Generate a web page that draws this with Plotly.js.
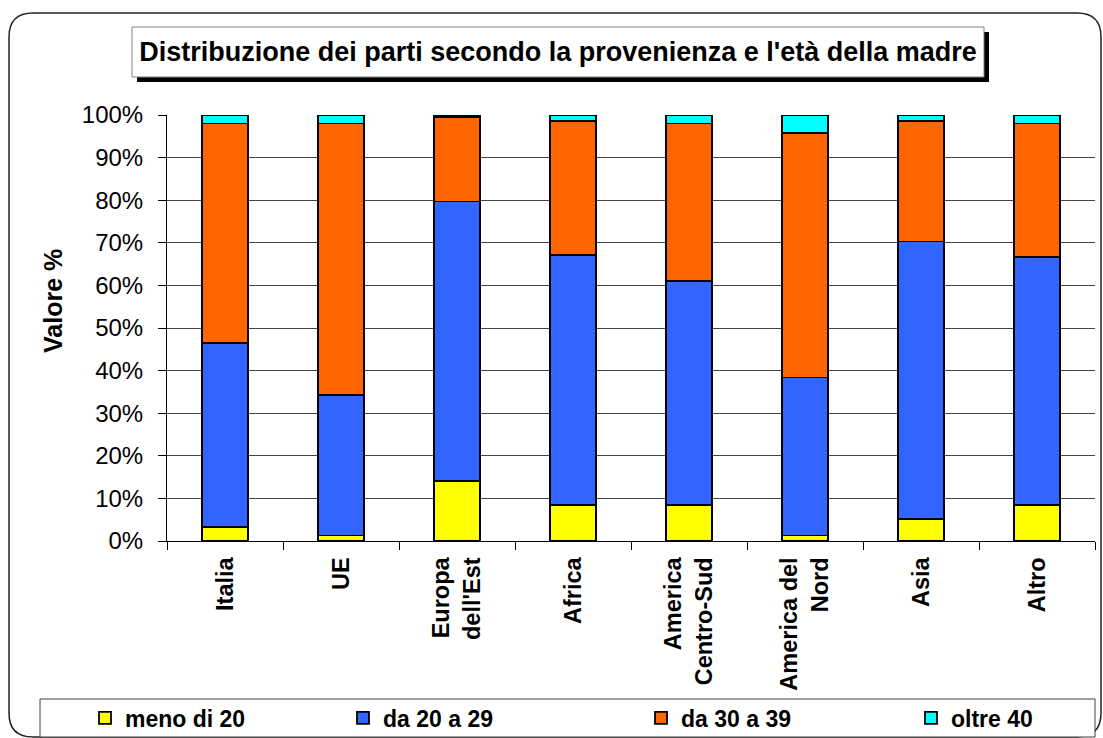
<!DOCTYPE html>
<html>
<head>
<meta charset="utf-8">
<script src="https://cdn.plot.ly/plotly-3.0.1.min.js"></script>
<style>html,body{margin:0;padding:0;background:#fff;}#chart{width:1103px;height:738px;}</style>
</head>
<body>
<div id="chart"></div>
<script>
// ---- data ----
const categories = ["Italia", "UE", "Europa<br>dell'Est", "Africa", "America<br>Centro-Sud", "America del<br>Nord", "Asia", "Altro"];
const seriesNames = ["meno di 20", "da 20 a 29", "da 30 a 39", "oltre 40"];
const meno20   = [3.3, 1.3, 14.1, 8.4, 8.4, 1.3, 5.1, 8.4];
const da20a29  = [43.1, 32.9, 65.6, 58.7, 52.6, 37.1, 65.2, 58.3];
const da30a39  = [51.6, 63.8, 19.8, 31.4, 37.0, 57.3, 28.2, 31.3];
const oltre40  = [2.0, 2.0, 0.5, 1.5, 2.0, 4.3, 1.5, 2.0];
const yTickVals = [0, 10, 20, 30, 40, 50, 60, 70, 80, 90, 100];
const yTickText = ["0%", "10%", "20%", "30%", "40%", "50%", "60%", "70%", "80%", "90%", "100%"];
const titleText = "Distribuzione dei parti secondo la provenienza e l'età della madre";
const yTitleText = "Valore %";

// ---- layout geometry (pixels) ----
const W = 1103, H = 738;
const M = {l: 167, r: 8, t: 115, b: 197};
const PW = W - M.l - M.r, PH = H - M.t - M.b;
const px = x => (x - M.l) / PW;
const py = y => (H - M.b - y) / PH;

const FONT = "Arial, 'Liberation Sans', Helvetica, sans-serif";
const colors = ["#FFFF00", "#3366FF", "#FF6600", "#00FFFF"];
const values = [meno20, da20a29, da30a39, oltre40];
const legendIds = ["legend", "legend2", "legend3", "legend4"];
const legendTextX = [126, 384, 682, 952];

const traces = values.map((v, i) => ({
  type: "bar",
  name: seriesNames[i],
  x: categories,
  y: v,
  legend: legendIds[i],
  showlegend: true,
  marker: {color: colors[i], line: {color: "#000", width: 1.8}},
  hoverinfo: "skip"
}));

function roundRectPath(x0, y0, x1, y1, r) {
  const P = (x, y) => px(x) + "," + py(y);
  return "M" + P(x0 + r, y0) + " L" + P(x1 - r, y0) + " Q" + P(x1, y0) + " " + P(x1, y0 + r) +
    " L" + P(x1, y1 - r) + " Q" + P(x1, y1) + " " + P(x1 - r, y1) +
    " L" + P(x0 + r, y1) + " Q" + P(x0, y1) + " " + P(x0, y1 - r) +
    " L" + P(x0, y0 + r) + " Q" + P(x0, y0) + " " + P(x0 + r, y0) + " Z";
}
function rect(x0, y0, x1, y1, fill, line, lw) {
  return {type: "rect", xref: "paper", yref: "paper", layer: "below",
    x0: px(x0), x1: px(x1), y0: py(y1), y1: py(y0),
    fillcolor: fill, line: {color: line, width: lw}};
}

const shapes = [
  {type: "path", xref: "paper", yref: "paper", layer: "below",
   path: roundRectPath(9, 13, 1101, 737, 24), line: {color: "#222", width: 1.5}},
  rect(137, 32, 989, 82, "#000", "rgba(0,0,0,0)", 0),
  rect(132, 27, 984, 77, "#fff", "#808080", 1),
  rect(40, 699, 1095, 737, "#fff", "#404040", 1)
];

const layout = {
  width: W, height: H,
  margin: M,
  showlegend: true,
  paper_bgcolor: "#fff",
  plot_bgcolor: "rgba(0,0,0,0)",
  barmode: "stack",
  bargap: 0.6,
  font: {family: FONT, color: "#000"},
  title: {
    text: titleText,
    font: {family: FONT, size: 27, weight: "bold", color: "#000"},
    xref: "container", yref: "container",
    x: 558 / W, y: 1 - 52 / H, xanchor: "center", yanchor: "middle"
  },
  xaxis: {
    type: "category",
    tickangle: -90,
    tickson: "boundaries",
    ticks: "outside", ticklen: 8, tickcolor: "#000", tickwidth: 1,
    ticklabelstandoff: 6,
    showline: true, linecolor: "#000", linewidth: 1,
    showgrid: false,
    tickfont: {family: FONT, size: 23.5, weight: "bold", color: "#000"},
    fixedrange: true
  },
  yaxis: {
    range: [0, 100],
    tickvals: yTickVals, ticktext: yTickText,
    ticks: "outside", ticklen: 8, tickcolor: "#000", tickwidth: 1,
    ticklabelstandoff: 10,
    showline: true, linecolor: "#000", linewidth: 1,
    showgrid: true, gridcolor: "#444", gridwidth: 1,
    zeroline: false,
    tickfont: {family: FONT, size: 24, color: "#000"},
    fixedrange: true
  },
  annotations: [{
    text: yTitleText, textangle: -90,
    xref: "paper", yref: "paper", x: px(53), y: py(301),
    xanchor: "center", yanchor: "middle", showarrow: false,
    font: {family: FONT, size: 25, weight: "bold", color: "#000"}
  }],
  shapes: shapes
};

legendIds.forEach((id, i) => {
  layout[id] = {
    orientation: "h",
    xref: "container", yref: "container",
    x: (legendTextX[i] - 41) / W, y: 1 - 718 / H,
    xanchor: "left", yanchor: "middle",
    bgcolor: "rgba(0,0,0,0)", borderwidth: 0,
    font: {family: FONT, size: 23, weight: "bold", color: "#000"}
  };
});

Plotly.newPlot("chart", traces, layout, {staticPlot: true, displayModeBar: false});
</script>
</body>
</html>
